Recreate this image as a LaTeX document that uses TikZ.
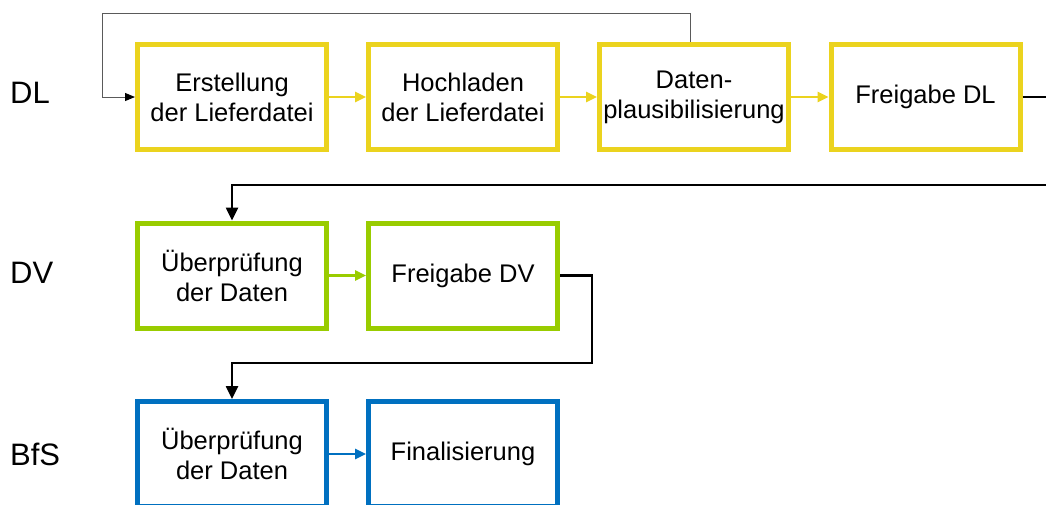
\documentclass[tikz,border=0pt]{standalone}
\usepackage{fontspec}
\setmainfont{Liberation Sans}
\usetikzlibrary{arrows.meta}
\definecolor{dlyellow}{RGB}{235,211,30}
\definecolor{dvgreen}{RGB}{153,204,0}
\definecolor{bfsblue}{RGB}{0,112,192}
\definecolor{fbgray}{RGB}{90,90,90}
\begin{document}
\begin{tikzpicture}[x=1pt,y=-1pt,
  procbox/.style={draw, line width=5pt, minimum width=189pt, minimum height=105pt,
    inner sep=0pt, align=center, font=\fontsize{25.5}{30}\selectfont, fill=white},
  rowlabel/.style={anchor=west, inner sep=0pt, font=\fontsize{31}{36}\selectfont},
  colarrow/.style={line width=2.5pt, -{Triangle[length=11pt,width=10pt]}},
  blackarrow/.style={line width=2.5pt, black, -{Triangle[length=13pt,width=12pt]}},
  fbarrow/.style={line width=1pt, fbgray, -{Triangle[length=10pt,width=8pt,color=black]}}
]
\clip (0,0) rectangle (1046,504);
\useasboundingbox (0,0) rectangle (1046,504);

% row labels
\node[rowlabel] (lDL) at (10,92.5) {DL};
\node[rowlabel] (lDV) at (10,273) {DV};
\node[rowlabel] (lBfS) at (10,454) {BfS};

% DL row
\node[procbox, draw=dlyellow] (b1) at (232,97) {Erstellung\\der Lieferdatei};
\node[procbox, draw=dlyellow] (b2) at (463,97) {Hochladen\\der Lieferdatei};
\node[procbox, draw=dlyellow] (b3) at (694,97) {Daten-\\plausibilisierung};
\node[procbox, draw=dlyellow] (b4) at (925.5,97) {Freigabe DL};

% DV row
\node[procbox, draw=dvgreen] (g1) at (232,275.5) {Überprüfung\\der Daten};
\node[procbox, draw=dvgreen] (g2) at (463,275.5) {Freigabe DV};

% BfS row
\node[procbox, draw=bfsblue] (u1) at (232,454) {Überprüfung\\der Daten};
\node[procbox, draw=bfsblue] (u2) at (463,454) {Finalisierung};

% helper coordinates
\coordinate (fb) at (102,13);
\coordinate (r1) at (1070,185);
\coordinate (r2) at (592,363);

% arrows within rows
\draw[colarrow, dlyellow] (b1) -- (b2);
\draw[colarrow, dlyellow] (b2) -- (b3);
\draw[colarrow, dlyellow] (b3) -- (b4);
\draw[colarrow, dvgreen] (g1) -- (g2);
\draw[colarrow, bfsblue] (u1) -- (u2);

% feedback loop
\draw[fbarrow] ([xshift=-4pt]b3.north) |- (fb) |- (b1.west);

% between rows
\draw[blackarrow] (b4.east) -| (r1) -| (g1.north);
\draw[blackarrow] (g2.east) -| (r2) -| (u1.north);
\end{tikzpicture}
\end{document}
